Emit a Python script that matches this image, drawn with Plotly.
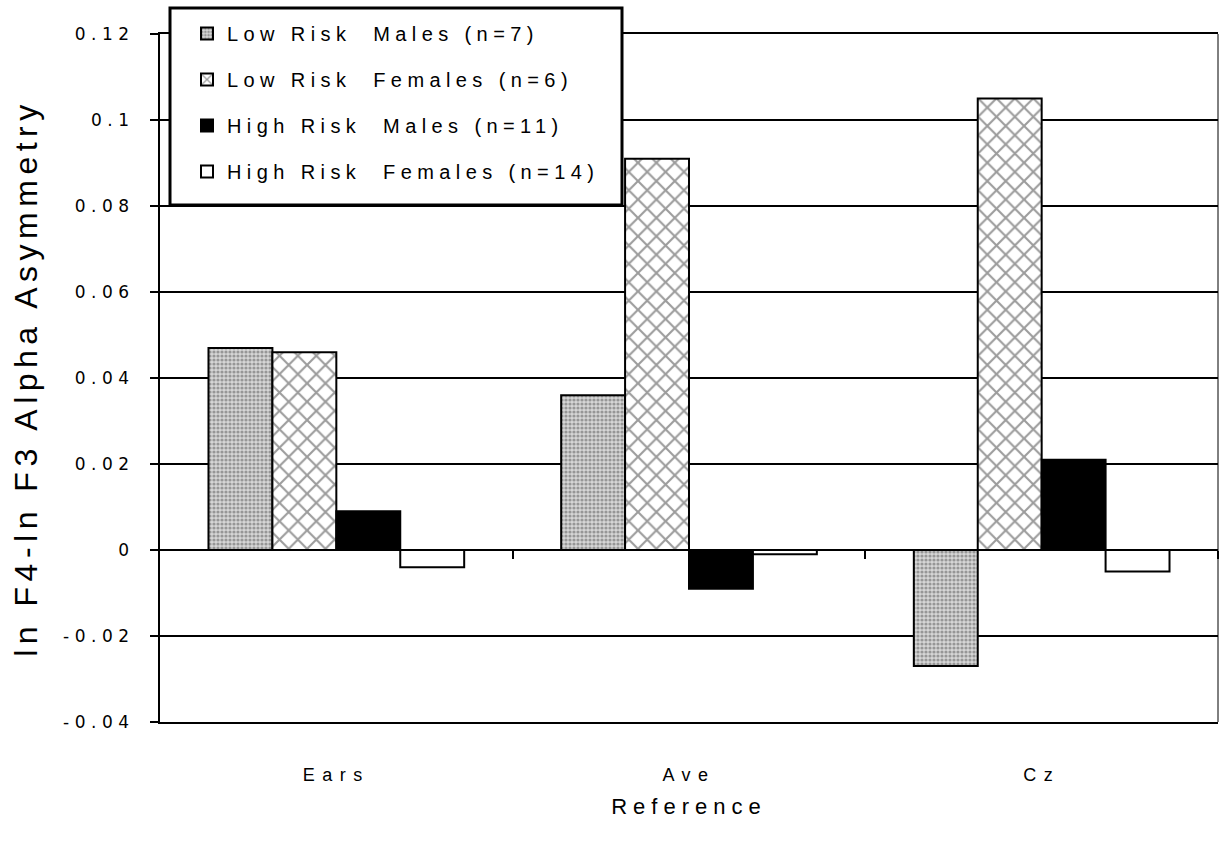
import plotly.graph_objects as go

# Reference electrode montages on the x axis
categories = ["Ears", "Ave", "Cz"]

# Group means of ln F4 - ln F3 alpha asymmetry
low_risk_males = [0.047, 0.036, -0.027]
low_risk_females = [0.046, 0.091, 0.105]
high_risk_males = [0.009, -0.009, 0.021]
high_risk_females = [-0.004, -0.001, -0.005]

series_names = [
    "Low Risk  Males (n=7)",
    "Low Risk  Females (n=6)",
    "High Risk  Males (n=11)",
    "High Risk  Females (n=14)",
]

y_ticks = [-0.04, -0.02, 0, 0.02, 0.04, 0.06, 0.08, 0.1, 0.12]
y_tick_text = ["-0.04", "-0.02", "0", "0.02", "0.04", "0.06", "0.08", "0.1", "0.12"]


def spaced(text, px):
    return f'<span style="letter-spacing:{px}px">{text}</span>'


W, H = 1221, 848
M_L, M_R, M_T, M_B = 160, 3, 34, 126
PW, PH = W - M_L - M_R, H - M_T - M_B


def px_x(x):
    return (x - M_L) / PW


def px_y(y):
    return 1 - (y - M_T) / PH


fig = go.Figure()

styles = [
    dict(color="#d0d0d0", pattern=dict(shape=".", size=4, solidity=0.5,
                                         fgcolor="#555555", bgcolor="#d6d6d6")),
    dict(color="white", pattern=dict(shape="x", size=13, solidity=0.3,
                                       fgcolor="#3a3a3a", bgcolor="white")),
    dict(color="black"),
    dict(color="white"),
]

for i, (name, vals) in enumerate(zip(series_names,
                                     [low_risk_males, low_risk_females,
                                      high_risk_males, high_risk_females])):
    fig.add_trace(go.Bar(
        x=categories, y=vals, name=spaced(name, 5.4),
        legendgroup=f"g{i}",
        marker=dict(line=dict(color="black", width=2), **styles[i]),
    ))

# Secondary x axis drawn along y = 0 carrying the category boundary ticks
fig.add_trace(go.Scatter(x=[None], y=[None], xaxis="x2", showlegend=False,
                         hoverinfo="skip"))

fig.update_layout(
    width=W, height=H,
    margin=dict(l=M_L, r=M_R, t=M_T, b=M_B),
    paper_bgcolor="white", plot_bgcolor="white",
    barmode="group", bargap=0.275, bargroupgap=0,
    font=dict(family="Liberation Sans, Arial, sans-serif", color="black"),
    legend=dict(
        x=px_x(187), y=px_y(14),
        xanchor="left", yanchor="top",
        bgcolor="rgba(0,0,0,0)", borderwidth=0,
        font=dict(size=20, color="black"),
        tracegroupgap=17,
        itemsizing="constant",
    ),
    xaxis=dict(
        range=[-0.5, 2.5],
        tickmode="array", tickvals=[0, 1, 2],
        ticktext=[spaced(c, 7.5) for c in categories],
        tickfont=dict(size=18), ticks="", ticklabelstandoff=36,
        showline=True, linecolor="black", linewidth=1.5, mirror=True,
        showgrid=False, zeroline=False,
        title=dict(text=spaced("Reference", 6), font=dict(size=22), standoff=14),
    ),
    xaxis2=dict(
        range=[-0.5, 2.5], overlaying="x", anchor="free",
        position=0.04 / 0.16,
        tickmode="array", tickvals=[0.5, 1.5, 2.5],
        ticks="outside", ticklen=8, tickwidth=1.5, tickcolor="black",
        showticklabels=False, showline=False, showgrid=False, zeroline=False,
    ),
    yaxis=dict(
        range=[-0.04, 0.12],
        tickmode="array", tickvals=y_ticks,
        ticktext=[spaced(t, 5.5) for t in y_tick_text],
        tickfont=dict(size=17, family="DejaVu Sans, sans-serif"),
        ticks="outside", ticklen=8, tickwidth=1.5,
        tickcolor="black", ticklabelstandoff=12,
        showline=True, linecolor="black", linewidth=2,
        showgrid=True, gridcolor="black", gridwidth=1.5,
        zeroline=True, zerolinecolor="black", zerolinewidth=2,
        title=dict(text=spaced("ln F4-ln F3 Alpha Asymmetry", 5.5),
                   font=dict(size=32),
                   standoff=16),
    ),
    shapes=[
        # right-hand frame edge
        dict(type="line", xref="paper", yref="paper", x0=1, x1=1, y0=0, y1=1,
             line=dict(color="black", width=1)),
        # legend frame
        dict(type="rect", xref="paper", yref="paper", layer="above",
             x0=px_x(170), x1=px_x(622), y0=px_y(205), y1=px_y(8),
             fillcolor="white", line=dict(color="black", width=3)),
    ],
)

fig.write_html("out.html")
